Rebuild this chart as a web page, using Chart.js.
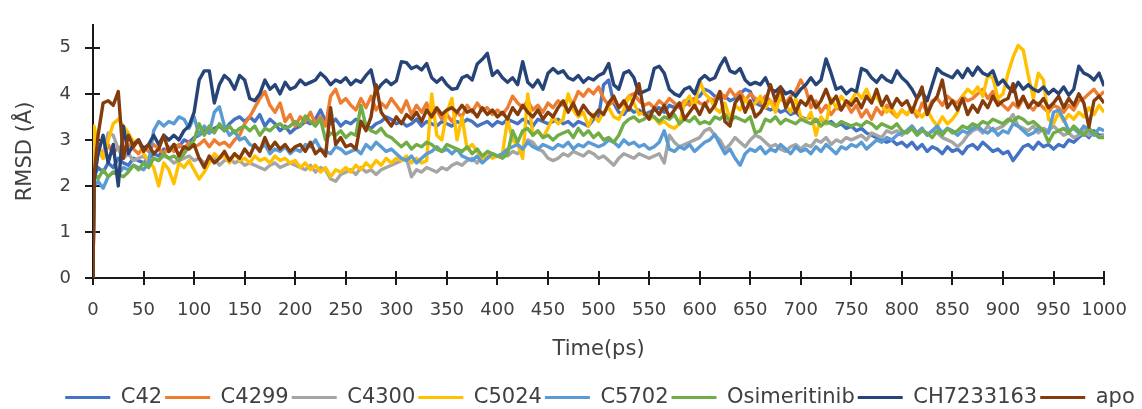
<!DOCTYPE html>
<html>
<head>
<meta charset="utf-8">
<script src="https://cdn.jsdelivr.net/npm/chart.js@4.4.1/dist/chart.umd.min.js"></script>
<style>
  html, body { margin: 0; padding: 0; background: #ffffff; }
  #wrap { width: 1142px; height: 409px; }
</style>
</head>
<body>
<div id="wrap"><canvas id="c" width="1142" height="409"></canvas></div>
<script>
// ---- DATA ----
const times = [0, 1,
  5, 10, 15, 20, 25, 30, 35, 40, 45, 50, 55, 60, 65, 70, 75, 80, 85, 90, 95, 100,
  105, 110, 115, 120, 125, 130, 135, 140, 145, 150, 155, 160, 165, 170, 175, 180, 185, 190, 195, 200,
  205, 210, 215, 220, 225, 230, 235, 240, 245, 250, 255, 260, 265, 270, 275, 280, 285, 290, 295, 300,
  305, 310, 315, 320, 325, 330, 335, 340, 345, 350, 355, 360, 365, 370, 375, 380, 385, 390, 395, 400,
  405, 410, 415, 420, 425, 430, 435, 440, 445, 450, 455, 460, 465, 470, 475, 480, 485, 490, 495, 500,
  505, 510, 515, 520, 525, 530, 535, 540, 545, 550, 555, 560, 565, 570, 575, 580, 585, 590, 595, 600,
  605, 610, 615, 620, 625, 630, 635, 640, 645, 650, 655, 660, 665, 670, 675, 680, 685, 690, 695, 700,
  705, 710, 715, 720, 725, 730, 735, 740, 745, 750, 755, 760, 765, 770, 775, 780, 785, 790, 795, 800,
  805, 810, 815, 820, 825, 830, 835, 840, 845, 850, 855, 860, 865, 870, 875, 880, 885, 890, 895, 900,
  905, 910, 915, 920, 925, 930, 935, 940, 945, 950, 955, 960, 965, 970, 975, 980, 985, 990, 995, 1000];

const seriesNames = ["C42", "C4299", "C4300", "C5024", "C5702", "Osimeritinib", "CH7233163", "apo"];

const c42 = [0, 2.2,
  2.4, 2.3, 2.5, 2.4, 2.6, 2.5, 2.45, 2.6, 2.55, 2.5,
  2.6, 2.7, 2.65, 2.8, 2.75, 2.9, 2.85, 3.0, 2.95, 3.05,
  3.1, 3.2, 3.15, 3.25, 3.3, 3.2, 3.35, 3.45, 3.5, 3.4,
  3.5, 3.4, 3.55, 3.3, 3.45, 3.35, 3.2, 3.3, 3.15, 3.25,
  3.3, 3.4, 3.35, 3.45, 3.65, 3.4, 3.35, 3.45, 3.3, 3.4,
  3.35, 3.45, 3.4, 3.3, 3.25, 3.35, 3.4, 3.5, 3.45, 3.35,
  3.4, 3.3, 3.35, 3.45, 3.3, 3.4, 3.35, 3.3, 3.4, 3.35,
  3.3, 3.4, 3.35, 3.45, 3.4, 3.3, 3.35, 3.4, 3.3, 3.4,
  3.35, 3.45, 3.4, 3.35, 3.45, 3.4, 3.3, 3.45, 3.4, 3.35,
  3.4, 3.45, 3.35, 3.4, 3.3, 3.4, 3.35, 3.3, 3.45, 3.5,
  4.2, 4.3, 3.8, 3.6, 3.55, 3.7, 3.6, 3.65, 3.55, 3.6,
  3.65, 3.7, 3.6, 3.75, 3.7, 3.8, 3.75, 3.85, 3.9, 3.95,
  4.1, 4.05, 3.95, 3.9, 3.95, 3.85, 3.9, 4.0, 4.1, 4.05,
  3.8, 3.75, 3.7, 3.65, 3.7, 3.6, 3.65, 3.55, 3.6, 3.5,
  3.45, 3.5, 3.4, 3.45, 3.35, 3.4, 3.3, 3.35, 3.25, 3.3,
  3.2, 3.25, 3.15, 3.1, 3.05, 3.0, 2.95, 3.0, 2.9, 2.95,
  2.85, 2.95, 2.8, 2.9, 2.75, 2.85, 2.8, 2.7, 2.85, 2.75,
  2.8, 2.7, 2.85, 2.9, 2.8, 2.95, 2.85, 2.75, 2.8, 2.7,
  2.75, 2.55, 2.7, 2.85, 2.9, 2.8, 2.95, 2.85, 2.9, 2.8,
  2.9, 2.85, 3.0, 2.95, 3.05, 3.15, 3.05, 3.2, 3.1, 3.1];

const c4299 = [0, 2.5,
  2.8, 2.6, 2.9, 2.7, 2.85, 2.75, 2.9, 2.8, 2.7, 2.85,
  2.75, 2.9, 2.8, 2.7, 2.85, 2.75, 2.9, 2.8, 2.95, 2.85,
  2.9, 3.0, 2.85, 3.0, 2.9, 2.95, 2.85, 3.0, 3.1, 3.35,
  3.5, 3.7, 3.9, 4.05, 3.75, 3.6, 3.8, 3.4, 3.55, 3.3,
  3.5, 3.4, 3.6, 3.35, 3.5, 3.3, 3.95, 4.1, 3.8, 3.9,
  3.75, 3.65, 3.9, 3.7, 3.95, 3.65, 3.8, 3.7, 3.9, 3.75,
  3.6, 3.85, 3.55, 3.75, 3.6, 3.8, 3.5, 3.65, 3.45, 3.55,
  3.4, 3.6, 3.5, 3.75, 3.6, 3.8, 3.65, 3.7, 3.55, 3.65,
  3.55, 3.7, 3.95, 3.8, 3.7, 3.85, 3.65, 3.75, 3.6, 3.8,
  3.7, 3.85, 3.75, 3.9, 3.8, 4.05, 3.95, 4.1, 4.0, 4.15,
  3.9, 3.75, 3.85, 3.7, 3.8, 3.95, 4.0, 3.85, 3.75, 3.8,
  3.7, 3.85, 3.75, 3.9, 3.8, 3.7, 3.85, 3.75, 3.9, 3.8,
  3.75, 3.9, 3.85, 4.05, 3.9, 4.1, 3.95, 4.05, 3.85, 4.0,
  3.9, 3.8, 3.95, 3.85, 3.75, 3.9, 3.8, 3.95, 4.05, 4.3,
  4.1, 3.7, 3.85, 3.6, 3.75, 3.55, 3.7, 3.65, 3.8, 3.6,
  3.75, 3.5, 3.65, 3.45, 3.7, 3.55, 3.75, 3.6, 3.5, 3.65,
  3.55, 3.7, 3.5, 3.8, 3.6, 3.85, 3.9, 3.75, 3.95, 3.85,
  3.8, 3.95, 3.85, 3.9, 4.0, 4.1, 3.9, 4.05, 3.85, 3.75,
  3.65, 3.8, 3.7, 3.9, 3.75, 3.65, 3.8, 3.7, 3.6, 3.75,
  3.7, 3.6, 3.75, 3.65, 3.85, 3.9, 4.0, 4.1, 3.95, 4.05];

const c4300 = [0, 2.4,
  2.8, 2.7, 3.15, 3.1, 2.8, 2.6, 2.7, 2.55, 2.6, 2.65,
  2.5, 2.6, 2.55, 2.65, 2.6, 2.5, 2.55, 2.6, 2.65, 2.55,
  2.6, 2.5, 2.55, 2.6, 2.45, 2.55, 2.6, 2.5, 2.55, 2.45,
  2.5, 2.45, 2.4, 2.35, 2.45, 2.5, 2.4, 2.45, 2.5, 2.45,
  2.4, 2.35, 2.45, 2.3, 2.4, 2.35, 2.15, 2.1, 2.25, 2.3,
  2.35, 2.25, 2.4, 2.3, 2.35, 2.25, 2.35, 2.4, 2.45, 2.5,
  2.55, 2.6, 2.2, 2.35, 2.3, 2.4, 2.35, 2.3, 2.4, 2.35,
  2.45, 2.5, 2.45, 2.55, 2.6, 2.5, 2.65, 2.6, 2.7, 2.65,
  2.7, 2.65, 2.75, 2.7, 2.8, 3.0, 2.95, 2.8, 2.75, 2.6,
  2.55, 2.6, 2.7, 2.65, 2.75, 2.7, 2.65, 2.75, 2.7, 2.6,
  2.65, 2.55, 2.45, 2.6, 2.7, 2.65, 2.6, 2.7, 2.65, 2.6,
  2.65, 2.7, 2.5, 3.1, 2.95, 2.85, 2.9, 2.95, 3.0, 3.05,
  3.2, 3.25, 3.1, 3.0, 2.8, 2.9, 3.05, 2.95, 2.85, 3.0,
  3.1, 3.05, 2.95, 2.85, 2.9, 2.8, 2.75, 2.85, 2.9, 2.8,
  2.9, 2.85, 3.0, 2.95, 3.05, 2.9, 3.0, 2.95, 3.05, 3.0,
  3.05, 3.1, 3.0, 3.15, 3.1, 3.05, 3.2, 3.15, 3.2, 3.1,
  3.2, 3.3, 3.15, 3.25, 3.1, 3.2, 3.15, 3.05, 3.0, 2.95,
  2.85, 2.95, 3.1, 3.2, 3.25, 3.15, 3.3, 3.2, 3.25, 3.3,
  3.4, 3.55, 3.3, 3.25, 3.2, 3.3, 3.15, 3.25, 3.2, 3.3,
  3.2, 3.1, 3.15, 3.05, 3.1, 3.2, 3.1, 3.15, 3.05, 3.1];

const c5024 = [0, 3.3,
  2.9, 2.6, 3.0, 3.35, 3.45, 3.3, 3.15, 2.95, 3.0, 2.7,
  2.55, 2.4, 2.0, 2.5, 2.35, 2.05, 2.5, 2.4, 2.55, 2.35,
  2.15, 2.3, 2.5, 2.7, 2.6, 2.65, 2.5, 2.7, 2.55, 2.6,
  2.5, 2.65, 2.55, 2.6, 2.5, 2.65, 2.55, 2.6, 2.5, 2.55,
  2.4, 2.5, 2.35, 2.45, 2.3, 2.4, 2.2, 2.35, 2.3, 2.4,
  2.3, 2.45, 2.35, 2.5, 2.4, 2.55, 2.45, 2.6, 2.5, 2.6,
  2.55, 2.65, 2.5, 2.6, 2.5, 2.55, 4.0, 3.1, 3.0, 3.6,
  3.9, 3.0, 3.5, 2.8, 2.9, 2.75, 2.6, 2.7, 2.6, 2.65,
  2.7, 3.45, 3.0, 2.9, 2.6, 4.0, 3.1, 3.2, 3.05, 3.25,
  3.5, 3.35, 3.45, 4.0, 3.65, 3.5, 3.6, 3.3, 3.55, 3.4,
  3.6, 3.7, 3.5, 3.45, 3.65, 3.95, 3.8, 3.55, 3.6, 3.45,
  3.5, 3.35, 3.4, 3.3, 3.25, 3.35, 3.8, 3.95, 3.7, 4.3,
  4.0, 3.9, 3.7, 3.6, 3.8, 3.45, 3.75, 3.65, 3.9, 3.7,
  3.8, 3.95, 3.7, 3.85, 3.6, 4.0, 3.75, 3.6, 3.9, 3.5,
  3.4, 3.6, 3.1, 3.5, 3.35, 3.9, 3.7, 3.95, 3.8, 3.85,
  4.05, 3.9, 4.1, 3.85, 3.95, 3.75, 3.6, 3.7, 3.5, 3.65,
  3.55, 3.7, 3.6, 3.5, 3.65, 3.45, 3.3, 3.5, 3.35, 3.45,
  3.6, 3.95, 4.1, 4.0, 4.15, 3.95, 4.4, 4.35, 3.9, 4.0,
  4.45, 4.8, 5.05, 4.95, 4.4, 3.9, 4.45, 4.3, 3.45, 3.35,
  3.6, 3.4, 3.55, 3.45, 3.6, 3.5, 3.7, 3.55, 3.75, 3.6];

const c5702 = [0, 2.0,
  2.1, 1.95, 2.2, 2.3, 2.25, 2.4, 2.35, 2.45, 2.4, 2.35,
  2.5, 3.2, 3.4, 3.3, 3.4, 3.35, 3.5, 3.45, 3.25, 3.5,
  3.1, 3.3, 3.15, 3.6, 3.72, 3.3, 3.1, 3.2, 3.0, 3.05,
  2.9, 2.85, 2.8, 2.9, 2.7, 2.8, 2.75, 2.85, 2.7, 2.8,
  2.75, 2.9, 2.85, 3.0, 2.8, 2.75, 2.7, 2.85, 2.8, 2.7,
  2.75, 2.8, 2.7, 2.9, 2.8, 2.95, 2.85, 2.75, 2.8, 2.7,
  2.6, 2.55, 2.65, 2.5, 2.6, 2.7, 2.75, 2.85, 2.75, 2.8,
  2.7, 2.8, 2.65, 2.6, 2.55, 2.65, 2.5, 2.6, 2.7, 2.65,
  2.7, 2.8, 2.85, 2.9, 2.8, 2.95, 2.85, 2.8, 2.9, 2.85,
  2.8, 2.9, 2.85, 2.95, 2.8, 2.9, 2.85, 2.95, 2.9, 2.85,
  2.9, 3.0, 2.95, 2.85, 3.0, 2.9, 2.95, 2.85, 2.9, 2.8,
  2.85, 2.95, 3.2, 2.8, 2.75, 2.85, 2.8, 2.9, 2.75, 2.85,
  2.95, 3.0, 3.12, 2.9, 2.7, 2.8, 2.6, 2.45, 2.7, 2.8,
  2.75, 2.85, 2.7, 2.8, 2.75, 2.9, 2.8, 2.7, 2.85, 2.75,
  2.8, 2.7, 2.85, 2.75, 2.9, 2.8, 2.7, 2.85, 2.8, 2.9,
  2.85, 2.95, 2.8, 2.9, 3.0, 2.95, 3.05, 3.0, 3.1, 3.15,
  3.2, 3.3, 3.15, 3.25, 3.1, 3.2, 3.3, 3.15, 3.25, 3.2,
  3.1, 3.2, 3.15, 3.25, 3.3, 3.2, 3.15, 3.25, 3.1, 3.2,
  3.15, 3.35, 3.3, 3.2, 3.1, 3.15, 3.25, 3.2, 3.15, 3.6,
  3.65, 3.45, 3.2, 3.25, 3.15, 3.3, 3.2, 3.1, 3.25, 3.2];

const osimeritinib = [0, 2.3,
  2.15, 2.35, 2.2, 2.3, 2.25, 2.2, 2.3, 2.45, 2.35, 2.5,
  2.4, 2.6, 2.55, 2.7, 2.6, 2.65, 2.55, 2.7, 2.85, 3.0,
  3.35, 3.1, 3.3, 3.15, 3.35, 3.2, 3.3, 3.15, 3.25, 3.3,
  3.2, 3.3, 3.1, 3.25, 3.2, 3.3, 3.35, 3.25, 3.3, 3.4,
  3.3, 3.52, 3.4, 3.3, 3.45, 3.0, 3.15, 3.1, 3.2, 3.05,
  3.15, 3.1, 3.75, 3.3, 3.2, 3.15, 3.25, 3.1, 3.05, 2.95,
  2.85, 2.95, 2.8, 2.9, 2.85, 2.95, 2.9, 2.8, 2.75, 2.9,
  2.85, 2.8, 2.75, 2.85, 2.7, 2.8, 2.65, 2.75, 2.7, 2.65,
  2.6, 2.7, 3.2, 2.95, 3.2, 3.25, 3.1, 3.2, 3.05, 3.1,
  3.0, 3.1, 3.15, 3.2, 3.05, 3.25, 3.1, 3.2, 3.05, 3.15,
  3.0, 3.05, 2.95, 3.1, 3.35, 3.45, 3.5, 3.4, 3.45, 3.55,
  3.5, 3.4, 3.5, 3.45, 3.55, 3.35, 3.45, 3.4, 3.5, 3.35,
  3.4, 3.35, 3.5, 3.45, 3.55, 3.4, 3.5, 3.45, 3.4, 3.5,
  3.15, 3.2, 3.45, 3.4, 3.5, 3.35, 3.45, 3.4, 3.35, 3.45,
  3.4, 3.35, 3.45, 3.3, 3.4, 3.35, 3.3, 3.4, 3.35, 3.3,
  3.35, 3.3, 3.4, 3.35, 3.25, 3.35, 3.3, 3.25, 3.35, 3.2,
  3.15, 3.25, 3.1, 3.2, 3.15, 3.05, 3.2, 3.1, 3.25, 3.15,
  3.2, 3.3, 3.25, 3.35, 3.3, 3.4, 3.35, 3.45, 3.4, 3.35,
  3.45, 3.4, 3.5, 3.45, 3.35, 3.4, 3.3, 3.2, 2.95, 3.15,
  3.2, 3.25, 3.15, 3.3, 3.2, 3.1, 3.25, 3.15, 3.05, 3.05];

const ch7233163 = [0, 2.1,
  2.7, 3.1, 2.5, 2.9, 2.0, 3.3, 2.7, 2.9, 3.0, 2.8,
  2.9, 3.1, 2.9, 3.1, 3.0, 3.1, 3.0, 3.2, 3.3, 3.6,
  4.3, 4.5, 4.5, 3.8, 4.2, 4.4, 4.3, 4.1, 4.4, 4.3,
  3.9, 3.85, 4.0, 4.3, 4.1, 4.2, 4.0, 4.25, 4.1, 4.15,
  4.3, 4.2, 4.25, 4.3, 4.45, 4.35, 4.2, 4.3, 4.25, 4.35,
  4.2, 4.3, 4.25, 4.4, 4.52, 4.05, 4.2, 4.3, 4.2, 4.28,
  4.7, 4.68, 4.55, 4.6, 4.52, 4.66, 4.35, 4.25, 4.35, 4.2,
  4.1, 4.12, 4.35, 4.4, 4.3, 4.65, 4.75, 4.88, 4.4, 4.5,
  4.35, 4.25, 4.35, 4.2, 4.7, 4.25, 4.15, 4.3, 4.1, 4.45,
  4.55, 4.45, 4.5, 4.35, 4.3, 4.4, 4.25, 4.35, 4.3, 4.4,
  4.45, 4.66, 4.2, 4.1, 4.45, 4.5, 4.35, 4.0, 4.05, 4.1,
  4.55, 4.6, 4.45, 4.1, 4.0, 3.95, 4.1, 4.15, 4.0, 4.3,
  4.4, 4.3, 4.35, 4.6, 4.78, 4.5, 4.45, 4.55, 4.3, 4.2,
  4.25, 4.2, 4.35, 4.1, 4.05, 4.15, 4.0, 4.05, 3.95, 4.1,
  4.2, 4.35, 4.2, 4.3, 4.76, 4.45, 4.1, 4.15, 4.0, 4.1,
  4.05, 4.55, 4.5, 4.35, 4.25, 4.4, 4.3, 4.25, 4.5, 4.35,
  4.25, 4.1, 3.9, 4.05, 3.85, 4.2, 4.55, 4.45, 4.4, 4.35,
  4.5, 4.35, 4.55, 4.4, 4.58, 4.45, 4.4, 4.5, 4.2, 4.3,
  4.15, 4.05, 4.25, 4.1, 4.2, 4.1, 4.05, 4.15, 4.0, 4.1,
  4.0, 4.15, 3.97, 4.1, 4.6, 4.45, 4.4, 4.3, 4.45, 4.17];

const apo = [0, 2.2,
  3.1, 3.8, 3.85, 3.75, 4.05, 2.6, 3.1, 2.85, 3.0, 2.75,
  2.9, 2.7, 2.8, 3.1, 2.75, 2.9, 2.65, 2.85, 2.8, 2.9,
  2.6, 2.4, 2.65, 2.5, 2.6, 2.75, 2.55, 2.7, 2.6, 2.8,
  2.65, 2.9, 2.75, 3.05, 2.8, 2.95, 2.8, 2.9, 2.75, 2.85,
  2.9, 2.75, 2.95, 2.7, 2.8, 2.65, 3.7, 2.9, 3.05, 2.85,
  2.9, 2.8, 3.4, 3.2, 3.5, 4.2, 3.6, 3.45, 3.3, 3.5,
  3.35, 3.55, 3.45, 3.6, 3.4, 3.65, 3.5, 3.7, 3.55, 3.65,
  3.7, 3.6, 3.75, 3.6, 3.65, 3.5, 3.7, 3.55, 3.65, 3.5,
  3.6, 3.45, 3.7, 3.55, 3.75, 3.6, 3.5, 3.65, 3.45, 3.6,
  3.5, 3.7, 3.85, 3.6, 3.8, 3.55, 3.75, 3.6, 3.5, 3.65,
  3.55, 3.8, 3.95, 3.7, 3.85, 3.65, 3.9, 4.22, 3.6, 3.45,
  3.7, 3.55, 3.75, 3.5, 3.65, 3.8, 3.45, 3.6, 3.75, 3.55,
  3.8, 3.6, 3.75, 4.05, 3.4, 3.3, 3.8, 3.95, 3.6, 3.85,
  3.5, 3.6, 3.8, 4.2, 3.85, 4.15, 3.7, 3.9, 3.6, 3.85,
  3.75, 3.95, 3.7, 3.85, 4.1, 3.8, 3.95, 3.65, 3.85, 3.75,
  3.9, 3.7, 3.95, 3.8, 4.1, 3.75, 3.95, 3.7, 3.9, 3.75,
  3.85, 3.6, 3.9, 4.15, 3.55, 3.8, 3.95, 4.3, 3.7, 3.85,
  3.65, 3.9, 3.55, 3.75, 3.6, 3.85, 3.7, 3.95, 3.75, 3.85,
  3.9, 4.22, 3.75, 3.95, 3.7, 3.85, 3.75, 3.9, 3.7, 3.8,
  3.95, 3.7, 3.9, 3.75, 4.0, 3.8, 3.28, 3.85, 3.95, 3.8];

const seriesValues = [c42, c4299, c4300, c5024, c5702, osimeritinib, ch7233163, apo];
const seriesColors = ["#4472C4", "#ED7D31", "#A5A5A5", "#FFC000", "#5B9BD5", "#70AD47", "#264478", "#843C0C"];
const yTickValues = [0, 1, 2, 3, 4, 5];
const xTickStep = 50;

// ---- CHART ----
const TEXT = "#404040";
const AXIS = "#1a1a1a";
const FONT = "'DejaVu Sans', 'Open Sans', sans-serif";

const innerTicks = {
  id: 'innerTicks',
  beforeDatasetsDraw(chart) {
    const ctx = chart.ctx;
    const xs = chart.scales.x, ys = chart.scales.y;
    ctx.save();
    ctx.strokeStyle = AXIS;
    ctx.lineWidth = 2;
    ctx.beginPath();
    xs.ticks.forEach(t => {
      const px = Math.round(xs.getPixelForValue(t.value));
      ctx.moveTo(px, ys.bottom);
      ctx.lineTo(px, ys.bottom - 7);
    });
    ys.ticks.forEach(t => {
      const py = Math.round(ys.getPixelForValue(t.value));
      ctx.moveTo(xs.left, py);
      ctx.lineTo(xs.left + 7, py);
    });
    ctx.stroke();
    ctx.restore();
  }
};

const legendShift = {
  id: 'legendShift',
  afterLayout(chart) {
    const lg = chart.legend;
    if (!lg) return;
    lg.left += 43; lg.right += 43;
    lg.top += 9; lg.bottom += 9;
  }
};

new Chart(document.getElementById('c'), {
  type: 'line',
  data: {
    labels: times,
    datasets: seriesNames.map((name, i) => ({
      label: name,
      data: seriesValues[i],
      borderColor: seriesColors[i],
      backgroundColor: seriesColors[i],
      borderWidth: 3.4,
      borderJoinStyle: 'round',
      pointRadius: 0,
      tension: 0,
      fill: false,
      order: seriesNames.length - 1 - i
    }))
  },
  options: {
    responsive: false,
    animation: false,
    devicePixelRatio: 1,
    layout: { padding: { left: 0, right: 28, top: 13, bottom: 0 } },
    plugins: {
      tooltip: { enabled: false },
      legend: {
        position: 'bottom',
        labels: {
          boxWidth: 45,
          boxHeight: 3,
          padding: 3,
          color: TEXT,
          font: { family: FONT, size: 21 },
          sort: (a, b) => a.datasetIndex - b.datasetIndex,
          generateLabels(chart) {
            const items = Chart.defaults.plugins.legend.labels.generateLabels(chart);
            items.forEach(it => { it.lineWidth = 0; it.fillStyle = it.strokeStyle; });
            return items;
          }
        }
      }
    },
    scales: {
      x: {
        type: 'linear',
        min: times[0],
        max: times[times.length - 1],
        afterFit(scale) { scale.height = 97; },
        ticks: { stepSize: xTickStep, color: TEXT, font: { family: FONT, size: 18 }, padding: 15, maxRotation: 0, autoSkip: false,
                 callback: (v) => String(v) },
        grid: { display: true, drawOnChartArea: false, drawTicks: true, tickLength: 7, color: AXIS, lineWidth: 2 },
        border: { display: true, color: AXIS, width: 2 },
        title: { display: true, text: 'Time(ps)', color: TEXT, font: { family: FONT, size: 21 }, padding: { top: 0, bottom: 13 } }
      },
      y: {
        min: 0,
        max: 5.5,
        afterFit(scale) { scale.width = 93; },
        afterBuildTicks(scale) { scale.ticks = yTickValues.map(v => ({ value: v })); },
        ticks: { stepSize: 1, color: TEXT, font: { family: FONT, size: 18 }, padding: 14 },
        grid: { display: true, drawOnChartArea: false, drawTicks: true, tickLength: 8, color: AXIS, lineWidth: 2 },
        border: { display: true, color: AXIS, width: 2 },
        title: { display: true, text: 'RMSD (Å)', color: TEXT, font: { family: FONT, size: 21 }, padding: { top: 13, bottom: 0 } }
      }
    }
  },
  plugins: [innerTicks, legendShift]
});
</script>
</body>
</html>
